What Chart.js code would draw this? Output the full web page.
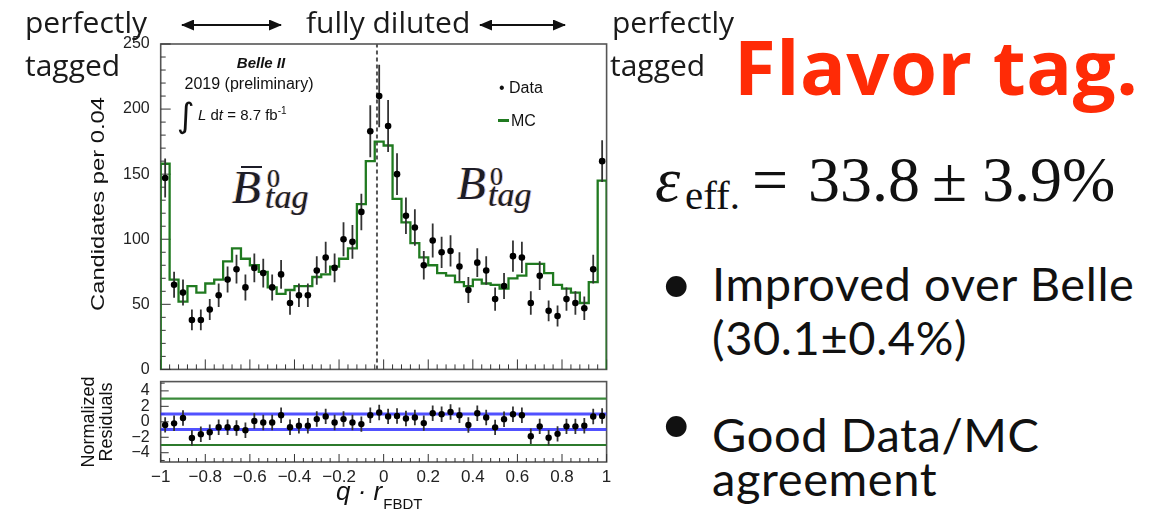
<!DOCTYPE html>
<html>
<head>
<meta charset="utf-8">
<script src="https://cdn.jsdelivr.net/npm/chart.js@4.4.1/dist/chart.umd.min.js"></script>
<style>
  html, body { margin: 0; padding: 0; background: #fff; }
  #slide { position: relative; width: 1168px; height: 513px; overflow: hidden; color: #111; }
  .abs { position: absolute; white-space: nowrap; line-height: 1; }
  .slide-txt { font-family: "Open Sans", sans-serif; font-size: 30px; color: #1a1a1a; }
  .bul { font-family: Lato, sans-serif; font-size: 47px; letter-spacing: 0.6px; }
  .math { font-family: "Liberation Serif", serif; font-size: 64px; }
  .root { font-family: "Liberation Sans", Arial, sans-serif; }
  .bsym { font-family: "Liberation Serif", serif; color: #1c1c28;
          text-shadow: -1px 0 rgba(255,140,0,0.55), 1px 0 rgba(40,110,255,0.45); }
  canvas { position: absolute; left: 0; }
</style>
</head>
<body>
<div id="slide">
  <canvas id="mainChart" width="620" height="390" style="top:0"></canvas>
  <canvas id="residChart" width="620" height="150" style="top:361px"></canvas>

  <!-- slide annotations -->
  <div class="abs slide-txt" style="left:25px; top:7px">perfectly</div>
  <div class="abs slide-txt" style="left:25px; top:50px">tagged</div>
  <div class="abs slide-txt" style="left:306px; top:7px">fully diluted</div>
  <div class="abs slide-txt" style="left:612px; top:7px">perfectly</div>
  <div class="abs slide-txt" style="left:610px; top:50px">tagged</div>
  <svg class="abs" style="left:0; top:0" width="620" height="50">
    <defs>
      <marker id="ah" markerUnits="userSpaceOnUse" markerWidth="13" markerHeight="11" refX="12" refY="5.5" orient="auto-start-reverse">
        <path d="M0,0 L13,5.5 L0,11 z" fill="#111"/>
      </marker>
    </defs>
    <line x1="182" y1="25" x2="281" y2="25" stroke="#111" stroke-width="2" marker-start="url(#ah)" marker-end="url(#ah)"/>
    <line x1="480" y1="25" x2="565" y2="25" stroke="#111" stroke-width="2" marker-start="url(#ah)" marker-end="url(#ah)"/>
  </svg>

  <div class="abs" style="left:734px; top:28px; font-family:'Open Sans',sans-serif; font-weight:700; font-size:76px; color:#ff2b06; letter-spacing:0.5px">Flavor tag.</div>

  <div class="abs math" style="left:655px; top:148px; font-style:italic">ε</div>
  <div class="abs math" style="left:685px; top:175px; font-size:41px">eff.</div>
  <div class="abs math" style="left:752px; top:148px">=</div>
  <div class="abs math" style="left:808px; top:148px">33.8</div>
  <div class="abs math" style="left:932px; top:148px">±</div>
  <div class="abs math" style="left:982px; top:148px">3.9%</div>

  <div class="abs bul" style="left:660px; top:254px; font-size:56px">•</div>
  <div class="abs bul" style="left:712px; top:260px">Improved over Belle</div>
  <div class="abs bul" style="left:712px; top:314px">(30.1±0.4%)</div>
  <div class="abs bul" style="left:660px; top:394px; font-size:56px">•</div>
  <div class="abs bul" style="left:712px; top:411px">Good Data/MC</div>
  <div class="abs bul" style="left:712px; top:455px">agreement</div>

  <!-- plot labels -->
  <div class="abs root" style="left:97px; top:204px; font-size:19px; transform:translate(-50%,-50%) rotate(-90deg) scaleX(1.25)">Candidates per 0.04</div>
  <div class="abs root" style="left:97px; top:422px; font-size:18px; line-height:18px; text-align:center; transform:translate(-50%,-50%) rotate(-90deg)">Normalized<br>Residuals</div>
  <div class="abs root" style="left:336px; top:478px; font-size:26px; font-style:italic">q · r<span style="font-style:normal; font-size:15px; position:relative; top:9px; margin-left:1px">FBDT</span></div>

  <div class="abs root" style="left:261px; top:62px; font-size:15px; font-weight:700; font-style:italic; transform:translate(-50%,-50%)">Belle II</div>
  <div class="abs root" style="left:249px; top:84px; font-size:16px; transform:translate(-50%,-50%)">2019 (preliminary)</div>
  <div class="abs" style="left:177px; top:98px; font-family:'DejaVu Sans',sans-serif; font-size:34px">∫</div>
  <div class="abs root" style="left:198px; top:106px; font-size:15px"><i>L</i> d<i>t</i> = 8.7 fb<sup style="font-size:10px">-1</sup></div>
  <div class="abs root" style="left:499px; top:80px; font-size:16px">• Data</div>
  <div class="abs" style="left:498px; top:119px; width:11px; height:3px; background:#207a20"></div>
  <div class="abs root" style="left:511px; top:113px; font-size:16px">MC</div>

  <div class="abs bsym" style="left:232px; top:164px; font-size:47px; font-style:italic">B</div>
  <div class="abs" style="left:241px; top:166px; width:21px; height:2px; background:#1c1c28"></div>
  <div class="abs bsym" style="left:267px; top:166px; font-size:26px">0</div>
  <div class="abs bsym" style="left:265px; top:180px; font-size:34px; font-style:italic">tag</div>
  <div class="abs bsym" style="left:457px; top:160px; font-size:47px; font-style:italic">B</div>
  <div class="abs bsym" style="left:490px; top:164px; font-size:26px">0</div>
  <div class="abs bsym" style="left:488px; top:178px; font-size:34px; font-style:italic">tag</div>
</div>

<script>
// q*r histogram, 50 bins of 0.04 from -1 to 1
const xMin = -1;
const xMax = 1;
const binWidth = 0.04;
const dataCounts = [147, 65, 59, 38, 38, 46, 57, 69, 77, 63, 78, 74, 63, 73, 51, 57, 57, 76, 86, 78,
    100, 98, 121, 183, 210, 187, 150, 118, 109, 80, 99, 90, 91, 79, 61, 82, 76, 54, 64, 87,
    86, 51, 72, 45, 41, 54, 51, 47, 77, 160];
const dataErrors = [15, 10, 10, 8, 8, 8, 9, 10, 11, 10, 11, 11, 10, 11, 9, 9, 9, 11, 12, 11,
    13, 13, 14, 20, 24, 20, 16, 14, 14, 11, 13, 12, 12, 11, 10, 11, 11, 9, 10, 12,
    12, 9, 11, 8, 8, 9, 9, 9, 11, 16];
const mcCounts = [158, 69, 52, 64, 59, 66, 69, 83, 93, 85, 80, 75, 63, 58, 61, 64, 64, 71, 73, 79,
    85, 93, 127, 160, 175, 172, 131, 113, 97, 86, 80, 74, 72, 67, 64, 69, 66, 65, 62, 70,
    72, 81, 81, 74, 65, 62, 59, 51, 67, 145];
const residuals = [-0.4, -0.2, 0.5, -2.1, -1.6, -1.35, -0.7, -0.7, -0.8, -1.1, 0.1, -0.1, -0.1, 0.85, -0.7, -0.5, -0.5, 0.35, 0.7, -0.1,
    0.35, -0.1, -0.3, 0.85, 1.2, 0.7, 0.76, 0.42, 0.55, -0.17, 1.1, 0.97, 1.27, 0.85, -0.42, 1.1, 0.55, -0.72, 0.34, 0.97,
    0.85, -1.86, -0.59, -2.07, -1.56, -0.59, -0.59, -0.5, 0.68, 0.76];
const residErr = 1;
const dilutedCut = -0.03;

const yTicks = [0, 50, 100, 150, 200, 250];
const residTicks = [-4, -2, 0, 2, 4];
const xTickValues = [-1, -0.8, -0.6, -0.4, -0.2, 0, 0.2, 0.4, 0.6, 0.8, 1];
const xTickLabels = ["−1", "−0.8", "−0.6", "−0.4", "−0.2", "0", "0.2", "0.4", "0.6", "0.8", "1"];

const binCenters = dataCounts.map((_, i) => xMin + (i + 0.5) * binWidth);

const points = (ys) => ys.map((y, i) => ({ x: binCenters[i], y }));
const errorBars = (ys, errs) =>
    ys.flatMap((y, i) => {
        const e = Array.isArray(errs) ? errs[i] : errs;
        const x = binCenters[i];
        return [{ x, y: y - e }, { x, y: y + e }, { x, y: null }];
    });
const mcSteps = [
    { x: xMin, y: 0 },
    ...mcCounts.flatMap((y, i) => [
        { x: binCenters[i] - binWidth / 2, y },
        { x: binCenters[i] + binWidth / 2, y },
    ]),
    { x: xMax, y: 0 },
];
const hLine = (y) => [{ x: xMin, y }, { x: xMax, y }];

const tickFont = { family: "Liberation Sans", size: 16 };

// ROOT-like frame with ticks pointing inwards
const frame = {
    id: "frame",
    beforeDatasetsDraw(chart, args, opts) {
        const { ctx, chartArea: a, scales } = chart;
        ctx.save();
        ctx.strokeStyle = "#555";
        ctx.lineWidth = 1.6;
        ctx.strokeRect(a.left, a.top, a.right - a.left, a.bottom - a.top);
        ctx.strokeStyle = "#333";
        ctx.lineWidth = 1;
        ctx.beginPath();
        for (let v = opts.yFrom; v <= opts.yTo + 1e-9; v += opts.yMinor) {
            const py = scales.y.getPixelForValue(v);
            const major = Math.abs(v / opts.yMajor - Math.round(v / opts.yMajor)) < 1e-6;
            ctx.moveTo(a.left, py);
            ctx.lineTo(a.left + (major ? opts.majorLen : opts.minorLen), py);
        }
        for (let i = 0; i <= 50; i++) {
            const v = xMin + i * binWidth;
            const px = scales.x.getPixelForValue(v);
            const major = i % 5 === 0;
            ctx.moveTo(px, a.bottom);
            ctx.lineTo(px, a.bottom - (major ? opts.majorLen : opts.minorLen));
        }
        ctx.stroke();
        ctx.restore();
    },
};

new Chart(document.getElementById("mainChart"), {
    type: "line",
    data: {
        datasets: [
            {
                data: points(dataCounts),
                showLine: false,
                pointRadius: 3.3,
                pointBackgroundColor: "#000",
                pointBorderWidth: 0,
            },
            {
                data: errorBars(dataCounts, dataErrors),
                borderColor: "#333",
                borderWidth: 1.8,
                pointRadius: 0,
            },
            {
                data: mcSteps,
                borderColor: "#207a20",
                borderWidth: 2.3,
                pointRadius: 0,
            },
            {
                data: [{ x: dilutedCut, y: 0 }, { x: dilutedCut, y: 250 }],
                borderColor: "#555",
                borderWidth: 2,
                borderDash: [4, 3],
                pointRadius: 0,
            },
        ],
    },
    options: {
        responsive: false,
        animation: false,
        layout: { padding: { left: 0, right: 13.4, top: 44, bottom: 18 } },
        plugins: {
            legend: { display: false },
            tooltip: { enabled: false },
            frame: { yFrom: 0, yTo: 250, yMinor: 10, yMajor: 50, majorLen: 10, minorLen: 5 },
        },
        scales: {
            x: { type: "linear", min: xMin, max: xMax, display: false },
            y: {
                min: 0,
                max: 250,
                afterFit: (s) => { s.width = 160.7; },
                afterBuildTicks: (s) => { s.ticks = yTicks.map((value) => ({ value })); },
                grid: { display: false, drawTicks: false },
                border: { display: false },
                ticks: { padding: 11, color: "#222", font: tickFont, autoSkip: false },
            },
        },
    },
    plugins: [frame],
});

new Chart(document.getElementById("residChart"), {
    type: "line",
    data: {
        datasets: [
            {
                data: points(residuals),
                showLine: false,
                pointRadius: 3.2,
                pointBackgroundColor: "#000",
                pointBorderWidth: 0,
            },
            {
                data: errorBars(residuals, residErr),
                borderColor: "#333",
                borderWidth: 1.8,
                pointRadius: 0,
            },
            { data: hLine(1), borderColor: "rgba(50,50,255,0.85)", borderWidth: 3, pointRadius: 0 },
            { data: hLine(-1), borderColor: "rgba(50,50,255,0.85)", borderWidth: 3, pointRadius: 0 },
            { data: hLine(3), borderColor: "#3a8a3a", borderWidth: 2.2, pointRadius: 0 },
            { data: hLine(-3), borderColor: "#2c7a2c", borderWidth: 2.2, pointRadius: 0 },
        ],
    },
    options: {
        responsive: false,
        animation: false,
        layout: { padding: { left: 0, right: 13.4, top: 4, bottom: 0 } },
        plugins: {
            legend: { display: false },
            tooltip: { enabled: false },
            frame: { yFrom: -5, yTo: 5, yMinor: 1, yMajor: 2, majorLen: 8, minorLen: 4 },
        },
        scales: {
            x: {
                type: "linear",
                min: xMin,
                max: xMax,
                afterFit: (s) => { s.height = 49; },
                afterBuildTicks: (s) => { s.ticks = xTickValues.map((value) => ({ value })); },
                grid: { display: false, drawTicks: false },
                border: { display: false },
                ticks: {
                    padding: 5,
                    color: "#222",
                    maxRotation: 0,
                    autoSkip: false,
                    font: { family: "Liberation Sans", size: 17 },
                    callback: (v, i) => xTickLabels[i],
                },
            },
            y: {
                min: -5.2,
                max: 5.2,
                afterFit: (s) => { s.width = 160.7; },
                afterBuildTicks: (s) => { s.ticks = residTicks.map((value) => ({ value })); },
                grid: { display: false, drawTicks: false },
                border: { display: false },
                ticks: {
                    padding: 11,
                    color: "#222",
                    font: tickFont,
                    autoSkip: false,
                    callback: (v) => String(v).replace("-", "−"),
                },
            },
        },
    },
    plugins: [frame],
});
</script>
</body>
</html>
